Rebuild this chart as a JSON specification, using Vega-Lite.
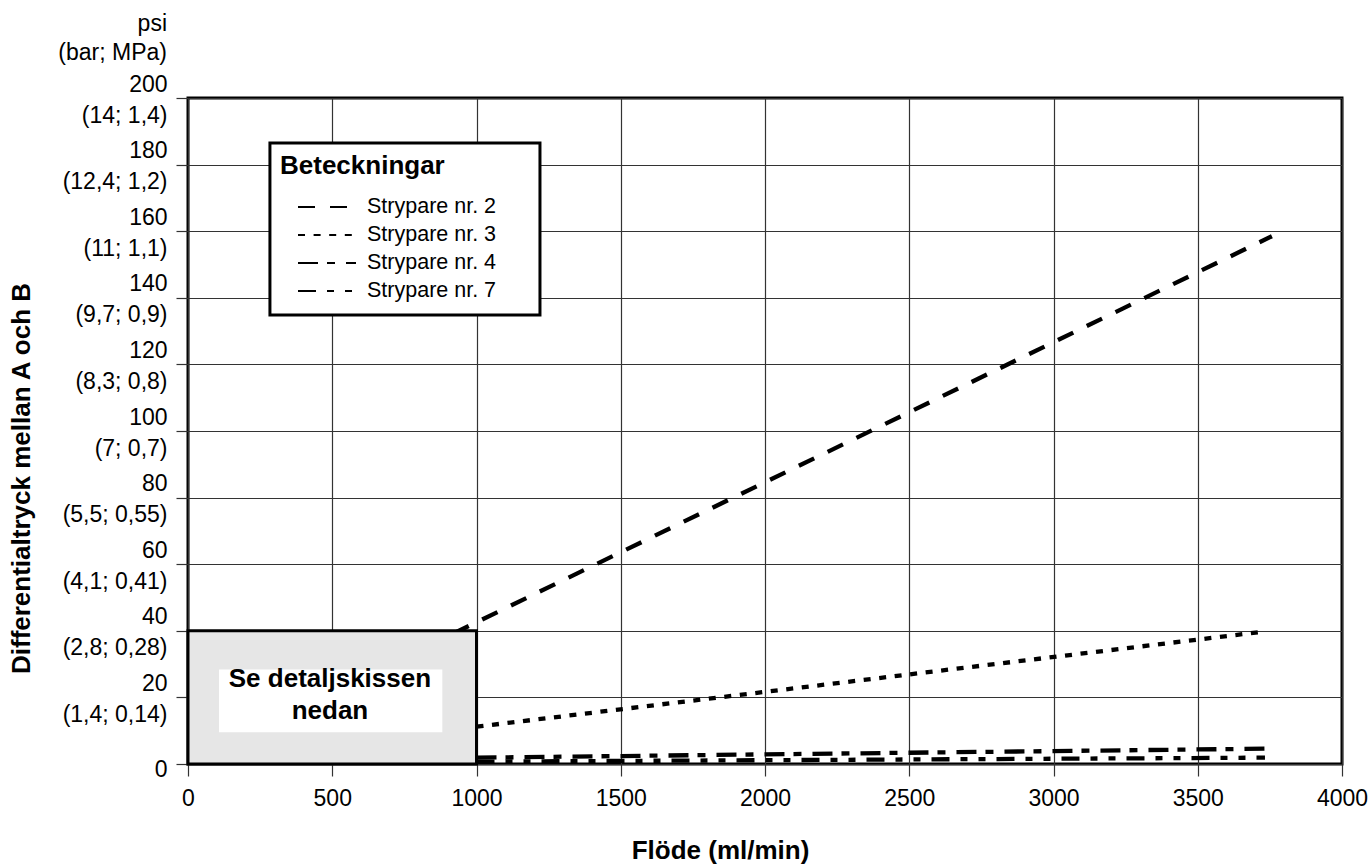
{
  "$schema": "https://vega.github.io/schema/vega-lite/v6.json",
  "autosize": {"type": "none"},
  "width": 1154,
  "height": 666,
  "padding": {"left": 188, "top": 98, "right": 29, "bottom": 104},
  "background": "white",
  "title": {
    "text": ["psi", "(bar; MPa)"],
    "anchor": "start",
    "frame": "group",
    "align": "right",
    "dx": -21,
    "fontSize": 23,
    "fontWeight": "normal",
    "lineHeight": 29,
    "offset": 8,
    "color": "black"
  },
  "config": {
    "font": "Liberation Sans",
    "view": {"stroke": "black", "strokeWidth": 3},
    "axis": {
      "grid": true,
      "gridColor": "#333333",
      "gridWidth": 1.2,
      "domain": false,
      "tickColor": "#333333",
      "tickSize": 12,
      "tickWidth": 1.2,
      "labelColor": "black",
      "labelFontSize": 23,
      "labelOverlap": false,
      "labelBound": false,
      "titleFontSize": 26,
      "titleFontWeight": "bold",
      "titleColor": "black"
    }
  },
  "layer": [
    {
      "data": {
        "values": [
          {"flow": 920, "psi": 39.2, "serie": "Strypare nr. 2"},
          {"flow": 3757, "psi": 158.5, "serie": "Strypare nr. 2"},
          {"flow": 1000, "psi": 11.2, "serie": "Strypare nr. 3"},
          {"flow": 3723, "psi": 39.7, "serie": "Strypare nr. 3"},
          {"flow": 1000, "psi": 1.9, "serie": "Strypare nr. 4"},
          {"flow": 3733, "psi": 4.6, "serie": "Strypare nr. 4"},
          {"flow": 1000, "psi": 0.7, "serie": "Strypare nr. 7"},
          {"flow": 3733, "psi": 1.9, "serie": "Strypare nr. 7"}
        ]
      },
      "mark": {"type": "line", "color": "black", "strokeWidth": 4.3},
      "encoding": {
        "x": {
          "field": "flow",
          "type": "quantitative",
          "scale": {"domain": [0, 4000], "nice": false},
          "axis": {
            "values": [0, 500, 1000, 1500, 2000, 2500, 3000, 3500, 4000],
            "format": "d",
            "labelFlush": false,
            "labelPadding": 11,
            "labelDx": -4,
            "title": "Flöde (ml/min)",
            "titleX": 532,
            "titleY": 94,
            "titleBaseline": "alphabetic",
            "titleAlign": "center"
          }
        },
        "y": {
          "field": "psi",
          "type": "quantitative",
          "scale": {"domain": [0, 200], "nice": false},
          "axis": {
            "values": [0, 20, 40, 60, 80, 100, 120, 140, 160, 180, 200],
            "format": "d",
            "labelPadding": 9,
            "labelBaseline": "middle",
            "labelLineHeight": 31,
            "labelOffset": {"condition": {"test": "datum.value == 0", "value": 5}, "value": -14},
            "labelExpr": "datum.value == 0 ? '0' : [datum.label, {'20':'(1,4; 0,14)','40':'(2,8; 0,28)','60':'(4,1; 0,41)','80':'(5,5; 0,55)','100':'(7; 0,7)','120':'(8,3; 0,8)','140':'(9,7; 0,9)','160':'(11; 1,1)','180':'(12,4; 1,2)','200':'(14; 1,4)'}[datum.label]]",
            "title": "Differentialtryck mellan A och B",
            "titleAngle": -90,
            "titleX": -159,
            "titleY": 380,
            "titleAlign": "center",
            "titleBaseline": "alphabetic"
          }
        },
        "strokeDash": {
          "field": "serie",
          "type": "nominal",
          "scale": {
            "domain": ["Strypare nr. 2", "Strypare nr. 3", "Strypare nr. 4", "Strypare nr. 7"],
            "range": [[17, 15], [7, 8.6], [20, 9, 8, 11], [18, 11, 7, 11, 7, 11]]
          },
          "legend": {
            "title": "Beteckningar",
            "orient": "none",
            "legendX": 92,
            "legendY": 55,
            "padding": 0,
            "titleFontSize": 26,
            "titleFontWeight": "bold",
            "titleColor": "black",
            "titlePadding": 14,
            "labelFontSize": 21.5,
            "labelColor": "black",
            "labelBaseline": "middle",
            "symbolType": "stroke",
            "symbolSize": 3364,
            "symbolStrokeWidth": 2,
            "symbolStrokeColor": "black",
            "symbolOffset": 17,
            "labelOffset": 10,
            "clipHeight": 28,
            "rowPadding": 0,
            "encode": {
              "symbols": {
                "update": {
                  "strokeDash": {"signal": "datum.value == 'Strypare nr. 2' ? [15, 8] : datum.value == 'Strypare nr. 3' ? [2, 8] : datum.value == 'Strypare nr. 4' ? [16, 6, 3, 6] : [14, 6, 2, 7, 2, 7]"}
                }
              }
            }
          }
        }
      }
    },
    {
      "data": {"values": [{}]},
      "mark": {"type": "rect", "fill": "white", "stroke": "black", "strokeWidth": 3},
      "encoding": {
        "x": {"datum": 284},
        "x2": {"datum": 1220},
        "y": {"datum": 186.5},
        "y2": {"datum": 134.8}
      }
    },
    {
      "data": {"values": [{}]},
      "mark": {"type": "rect", "fill": "#e6e6e6", "stroke": "black", "strokeWidth": 3},
      "encoding": {
        "x": {"datum": 0},
        "x2": {"datum": 1000},
        "y": {"datum": 0},
        "y2": {"datum": 40}
      }
    },
    {
      "data": {"values": [{}]},
      "mark": {"type": "rect", "fill": "white"},
      "encoding": {
        "x": {"datum": 107.5},
        "x2": {"datum": 881.5},
        "y": {"datum": 9.5},
        "y2": {"datum": 28.4}
      }
    },
    {
      "data": {"values": [{}]},
      "mark": {
        "type": "text",
        "text": ["Se detaljskissen", "nedan"],
        "font": "Liberation Sans",
        "fontSize": 26,
        "fontWeight": "bold",
        "color": "black",
        "align": "center",
        "baseline": "middle",
        "lineHeight": 32
      },
      "encoding": {
        "x": {"datum": 492},
        "y": {"datum": 25.4}
      }
    }
  ]
}
